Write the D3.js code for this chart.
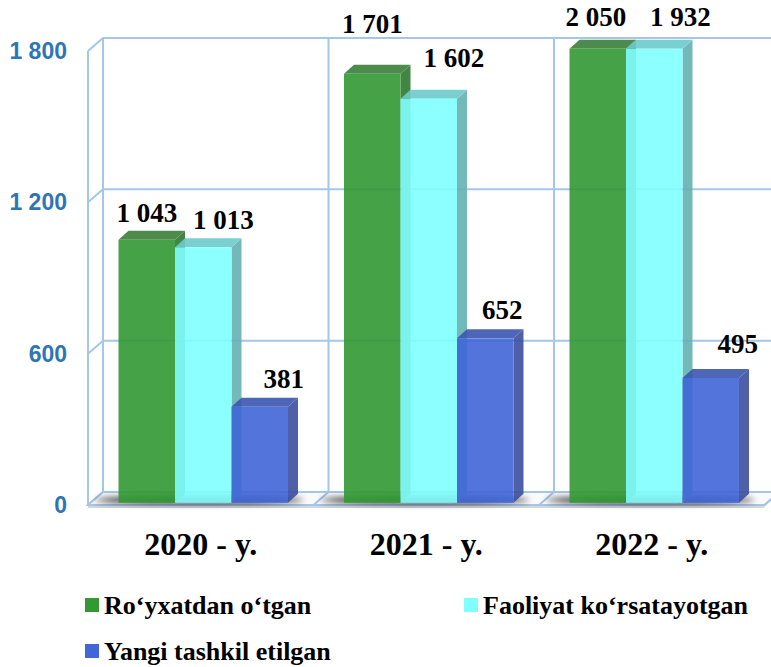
<!DOCTYPE html>
<meta charset="utf-8">
<script src="https://cdn.jsdelivr.net/npm/d3@7"></script>
<style>
body { margin: 0; background: #fff; }
svg { display: block; }
.tick-label { font-family: "Liberation Sans", Arial, sans-serif; font-weight: bold; font-size: 23px; fill: #2E75B6; }
.value-label { font-family: "Liberation Serif", "Times New Roman", serif; font-weight: bold; font-size: 27px; fill: #000; }
.cat-label { font-family: "Liberation Serif", "Times New Roman", serif; font-weight: bold; font-size: 32px; fill: #000; }
.legend-label { font-family: "Liberation Serif", "Times New Roman", serif; font-weight: bold; font-size: 26px; fill: #000; }
</style>
<body>
<div class="chart"></div>
<script>

// data
var years = ["2020 - y.", "2021 - y.", "2022 - y."];
var seriesNames = ["Ro\u2018yxatdan o\u2018tgan", "Faoliyat ko\u2018rsatayotgan", "Yangi tashkil etilgan"];
var registered = [1043, 1701, 2050];
var active = [1013, 1602, 1932];
var newlyCreated = [381, 652, 495];
var yTicks = [0, 600, 1200, 1800];

var seriesValues = [registered, active, newlyCreated];

// colours: front, top, side
var colors = [
  {front: "#339933", top: "#3a7f3a", side: "#2f7a2f"},
  {front: "#80ffff", top: "#6ccccc", side: "#66b2b2"},
  {front: "#4166d8", top: "#3b56b0", side: "#3c4f9f"}
];

// label nudges [dx, dy] per series, per year (Excel moves them around)
var labelShift = [
  [[0, 1], [0, -22], [-2, -4]],
  [[20, 1], [25, -13], [26, -4]],
  [[24, 0], [17, 0], [27, -6]]
];

var width = 771, height = 667;
var wall = {dx: 15, dy: -13},    // depth of the chart walls
    barOff = {dx: 2.5, dy: -2.2}, // bars sit a little back from the front
    depth = {dx: 10, dy: -9};     // depth of a bar

var gridColor = "#a4c6ea";

var x0 = d3.scaleBand().domain(years).range([88, 764.5]);
var x1 = d3.scaleBand().domain(d3.range(3)).range([28, 197.5]);
var y = d3.scaleLinear().domain([0, 1800]).range([505, 51]);
var fmt = function(v) { return d3.format(",")(v).replace(",", " "); };

var svg = d3.select(".chart").append("svg")
    .attr("width", width)
    .attr("height", height);

var defs = svg.append("defs");
defs.append("filter").attr("id", "blur")
    .attr("x", "-50%").attr("y", "-200%").attr("width", "200%").attr("height", "500%")
  .append("feGaussianBlur").attr("stdDeviation", 3);

var left = x0.range()[0], right = x0.range()[1];
var line = function(p) { return "M" + p.map(function(d) { return d.join(","); }).join("L"); };

// back wall grid lines
var grid = svg.append("g").attr("fill", "none").attr("stroke", gridColor).attr("stroke-width", 2);

grid.selectAll(".hgrid")
    .data(yTicks)
  .enter().append("path")
    .attr("d", function(d) {
      return line([[left, y(d)], [left + wall.dx, y(d) + wall.dy], [right + wall.dx, y(d) + wall.dy]]);
    });

// left wall verticals
grid.append("path").attr("d", line([[left, y(0)], [left, y(1800)]]));
grid.append("path").attr("d", line([[left + wall.dx, y(0) + wall.dy], [left + wall.dx, y(1800) + wall.dy]]));

// back wall category separators
grid.selectAll(".vgrid")
    .data(years)
  .enter().append("path")
    .attr("d", function(d, i) {
      var xx = left + x0.step() * (i + 1) + wall.dx;
      return line([[xx, y(0) + wall.dy], [xx, y(1800) + wall.dy]]);
    });

// floor
svg.append("path")
    .attr("d", line([[left, y(0)], [right, y(0)], [right, y(0) + 3], [left, y(0) + 3]]) + "Z")
    .attr("fill", "#d6d6d6");
svg.append("path")
    .attr("d", line([[left, y(0)], [left + wall.dx, y(0) + wall.dy], [right + wall.dx, y(0) + wall.dy], [right, y(0)]]) + "Z")
    .attr("fill", "#fafafa")
    .attr("stroke", gridColor)
    .attr("stroke-width", 2);
svg.append("g").attr("stroke", gridColor).attr("stroke-width", 2)
  .selectAll("path")
    .data(d3.range(1, 4))
  .enter().append("path")
    .attr("d", function(i) {
      var xx = left + x0.step() * i;
      return line([[xx, y(0)], [xx + wall.dx, y(0) + wall.dy]]);
    });

// shadows under each group
svg.append("g").selectAll("ellipse")
    .data(years)
  .enter().append("ellipse")
    .attr("cx", function(d) { return x0(d) + x0.bandwidth() / 2 + barOff.dx - 4; })
    .attr("cy", y(0) - 5)
    .attr("rx", 104)
    .attr("ry", 3.5)
    .attr("fill", "#111")
    .attr("opacity", 0.9)
    .attr("filter", "url(#blur)");

// bars
var bars = [];
years.forEach(function(yr, i) {
  seriesValues.forEach(function(vals, s) {
    bars.push({year: yr, yi: i, s: s, value: vals[i]});
  });
});

var barG = svg.append("g").selectAll(".bar")
    .data(bars)
  .enter().append("g")
    .attr("class", "bar")
    .attr("opacity", 0.9);

function geom(d) {
  var bx = x0(d.year) + x1(d.s) + barOff.dx,
      bw = x1.bandwidth(),
      top = y(Math.min(d.value, 1800)) + barOff.dy,
      bot = y(0) + barOff.dy;
  return {x: bx, w: bw, top: top, bot: bot};
}

barG.append("path")
    .attr("d", function(d) {
      var g = geom(d);
      return line([[g.x + g.w, g.top], [g.x + g.w + depth.dx, g.top + depth.dy],
                   [g.x + g.w + depth.dx, g.bot + depth.dy], [g.x + g.w, g.bot]]) + "Z";
    })
    .attr("fill", function(d) { return colors[d.s].side; });

barG.append("path")
    .attr("d", function(d) {
      var g = geom(d);
      return line([[g.x, g.top], [g.x + depth.dx, g.top + depth.dy],
                   [g.x + g.w + depth.dx, g.top + depth.dy], [g.x + g.w, g.top]]) + "Z";
    })
    .attr("fill", function(d) { return colors[d.s].top; });

barG.append("rect")
    .attr("x", function(d) { return geom(d).x; })
    .attr("y", function(d) { return geom(d).top; })
    .attr("width", x1.bandwidth())
    .attr("height", function(d) { var g = geom(d); return g.bot - g.top; })
    .attr("fill", function(d) { return colors[d.s].front; });

// value labels
svg.append("g").selectAll("text")
    .data(bars)
  .enter().append("text")
    .attr("class", "value-label")
    .attr("text-anchor", "middle")
    .attr("x", function(d) { var g = geom(d); return g.x + g.w / 2 + labelShift[d.s][d.yi][0]; })
    .attr("y", function(d) { var g = geom(d); return g.top + depth.dy - 10 + labelShift[d.s][d.yi][1]; })
    .text(function(d) { return fmt(d.value); });

// y axis labels
svg.append("g").selectAll("text")
    .data(yTicks)
  .enter().append("text")
    .attr("class", "tick-label")
    .attr("text-anchor", "end")
    .attr("x", 67)
    .attr("y", function(d) { return y(d) + 8; })
    .text(function(d) { return fmt(d); });

// category labels
svg.append("g").selectAll("text")
    .data(years)
  .enter().append("text")
    .attr("class", "cat-label")
    .attr("text-anchor", "middle")
    .attr("x", function(d) { return x0(d) + x0.bandwidth() / 2; })
    .attr("y", 555)
    .text(function(d) { return d; });

// legend
var legendPos = [[85, 614], [464, 614], [85, 660]];
var legend = svg.append("g").selectAll("g")
    .data(seriesNames)
  .enter().append("g")
    .attr("transform", function(d, i) { return "translate(" + legendPos[i][0] + "," + legendPos[i][1] + ")"; });

legend.append("rect")
    .attr("x", 0)
    .attr("y", -16)
    .attr("width", 14)
    .attr("height", 14)
    .attr("fill", function(d, i) { return colors[i].front; });

legend.append("text")
    .attr("class", "legend-label")
    .attr("x", 19)
    .attr("y", 0)
    .text(function(d) { return d; });

</script>
</body>
